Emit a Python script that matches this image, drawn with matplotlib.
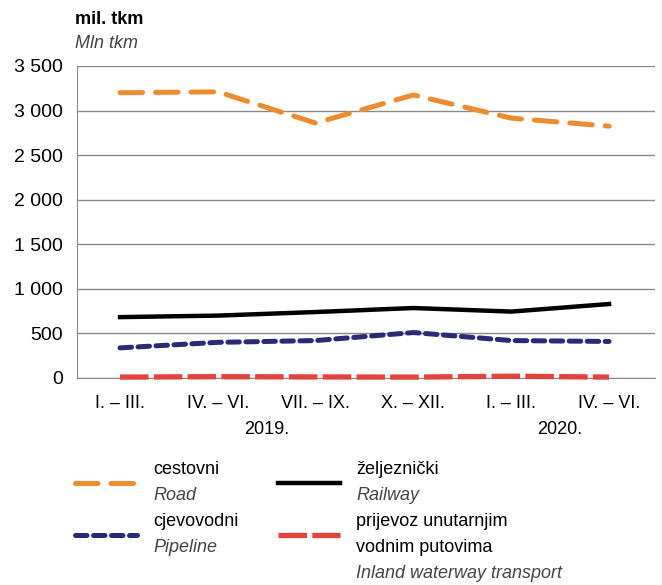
import matplotlib.pyplot as plt
from matplotlib.lines import Line2D

quarters = ["I. \u2013 III.", "IV. \u2013 VI.", "VII. \u2013 IX.", "X. \u2013 XII.", "I. \u2013 III.", "IV. \u2013 VI."]
years = ["2019.", "2020."]
road = [3200, 3210, 2860, 3175, 2915, 2825]
railway = [683, 700, 740, 785, 745, 830]
pipeline = [338, 400, 420, 510, 420, 410]
waterway = [10, 15, 12, 10, 20, 10]

plt.rcParams['font.family'] = ['Liberation Sans Narrow', 'Liberation Sans', 'DejaVu Sans']

W, H = 662, 585
fig = plt.figure(figsize=(W / 100, H / 100), dpi=100)
ax = fig.add_axes([77 / W, 1 - 378 / H, (655 - 77) / W, (378 - 66) / H])

orange = '#EF8B2C'
navy = '#2B2A78'
red = '#E5423B'

styles = {
    'road': dict(color=orange, lw=3.6, dashes=(4.5, 2.6), solid_capstyle='round', dash_capstyle='round'),
    'railway': dict(color='black', lw=3.2),
    'pipeline': dict(color=navy, lw=3.6, dashes=(2.3, 1.3), dash_capstyle='round'),
    'waterway': dict(color=red, lw=3.8, dashes=(5.4, 1.0)),
}

x = range(len(quarters))
ax.plot(x, waterway, clip_on=False, zorder=4, **styles['waterway'])
ax.plot(x, pipeline, **styles['pipeline'])
ax.plot(x, railway, **styles['railway'])
ax.plot(x, road, **styles['road'])

ax.set_ylim(0, 3500)
ax.set_xlim(-0.44, 5.47)
yt = list(range(0, 3501, 500))
ax.set_yticks(yt)
ax.set_yticklabels([f"{v:,}".replace(",", " ") for v in yt], fontsize=14)
ax.set_xticks(list(x))
ax.set_xticklabels(quarters, fontsize=13)
ax.tick_params(length=0, pad=10)
ax.tick_params(axis='x', pad=12)
ax.grid(axis='y', color='#8a8a8a', lw=1)
ax.set_axisbelow(True)
for s in ['top', 'right']:
    ax.spines[s].set_visible(False)
ax.spines['left'].set_color('#8a8a8a')
ax.spines['bottom'].set_color('#8a8a8a')

for i, yr in enumerate(years):
    ax.text(1.5 + 3 * i, -0.165, yr, transform=ax.get_xaxis_transform(), ha='center', va='center', fontsize=13)

fig.text(75 / W, 1 - 20 / H, "mil. tkm", fontsize=13, fontweight='bold', va='center')
fig.text(75 / W, 1 - 43 / H, "Mln tkm", fontsize=13, style='italic', color='#444444', va='center')


def legend_item(x0, y0, key, lines, italic):
    fig.add_artist(Line2D([x0 / W, (x0 + 62) / W], [1 - y0 / H, 1 - y0 / H], **styles[key]))
    tx = x0 + 78
    ty = y0 - 13
    for ln in lines:
        fig.text(tx / W, 1 - ty / H, ln, fontsize=13, va='center')
        ty += 26
    fig.text(tx / W, 1 - ty / H, italic, fontsize=13, style='italic', color='#444444', va='center')


legend_item(75, 483, 'road', ["cestovni"], "Road")
legend_item(278, 483, 'railway', ["\u017eeljezni\u010dki"], "Railway")
legend_item(75, 535, 'pipeline', ["cjevovodni"], "Pipeline")
legend_item(278, 535, 'waterway', ["prijevoz unutarnjim", "vodnim putovima"], "Inland waterway transport")

fig.savefig("out.png", dpi=100)
